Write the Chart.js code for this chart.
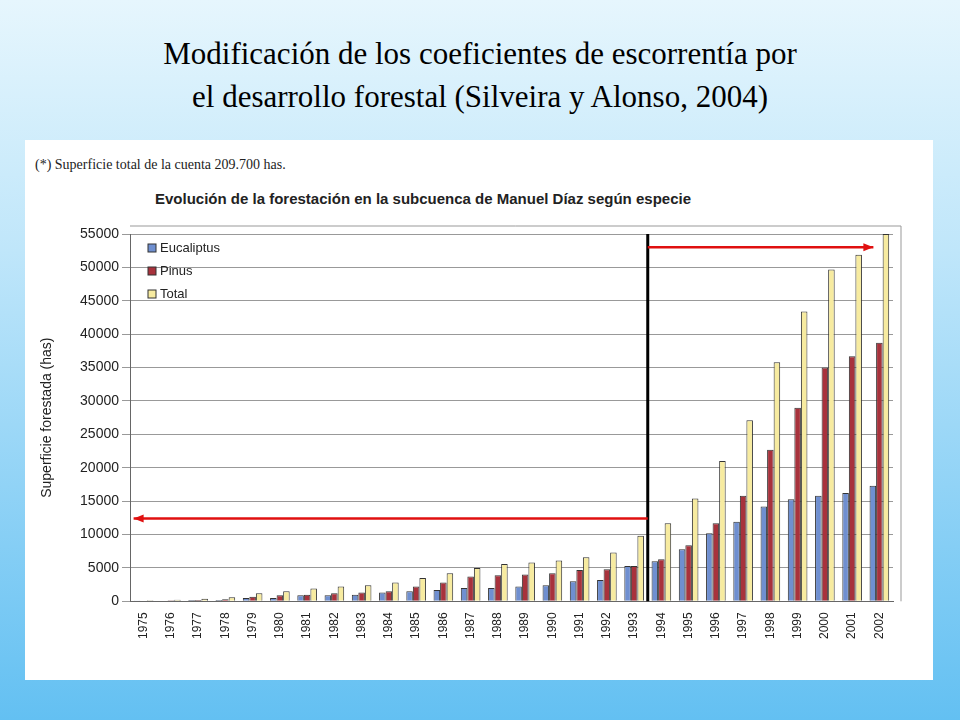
<!DOCTYPE html>
<html><head><meta charset="utf-8">
<script src="https://cdn.jsdelivr.net/npm/chart.js@4/dist/chart.umd.min.js"></script>
<style>
html,body{margin:0;padding:0;width:960px;height:720px;overflow:hidden}
body{background:linear-gradient(#e6f6fd 0%,#bfe6fa 35%,#63c0f2 100%);font-family:"Liberation Serif",serif;position:relative}
#t{position:absolute;top:32px;left:0;width:960px;text-align:center;font-size:31px;line-height:43px;color:#000}
#panel{position:absolute;left:25px;top:140px;width:908px;height:540px;background:#fff}
#fn{position:absolute;left:10px;top:17px;font:14px "Liberation Serif",serif;color:#222}
#ct{position:absolute;left:130px;top:50px;font:bold 15px "Liberation Sans",sans-serif;color:#222}
canvas{position:absolute;left:0;top:0}
</style></head><body>
<div id="t">Modificación de los coeficientes de escorrentía por<br>el desarrollo forestal (Silveira y Alonso, 2004)</div>
<div id="panel"><div id="fn">(*) Superficie total de la cuenta 209.700 has.</div>
<div id="ct">Evolución de la forestación en la subcuenca de Manuel Díaz según especie</div>
<canvas id="c" width="908" height="540"></canvas></div>
<script>
const years=['1975','1976','1977','1978','1979','1980','1981','1982','1983','1984','1985','1986','1987','1988','1989','1990','1991','1992','1993','1994','1995','1996','1997','1998','1999','2000','2001','2002'];
const eucaliptus=[50,100,200,200,500,500,900,900,1000,1300,1500,1700,2000,2000,2200,2400,3000,3200,5300,6000,7800,10200,11900,14200,15300,15800,16200,17300];
const pinus=[100,150,200,300,700,900,1000,1200,1300,1500,2200,2800,3700,3900,4000,4200,4700,4800,5300,6300,8400,11700,15800,22700,29000,35000,36700,38700];
const total=[150,250,400,600,1200,1500,1900,2200,2400,2800,3500,4200,5000,5600,5800,6100,6600,7300,9800,11700,15400,21000,27100,35800,43400,49700,51900,55000];
const yTicks=[0,5000,10000,15000,20000,25000,30000,35000,40000,45000,50000,55000];
const colors=['#6f8fd0','#a8323c','#f7eba0'];
const over={id:'over',afterDatasetsDraw(ch){
 const c=ch.ctx,x=ch.scales.x,y=ch.scales.y,a=ch.chartArea;
 c.save();
 c.strokeStyle='#999';c.lineWidth=1;c.beginPath();c.moveTo(a.left,a.top-8);c.lineTo(a.right+8,a.top-8);c.lineTo(a.right+8,a.bottom);c.stroke();
 const names=['Eucaliptus','Pinus','Total'];
 c.font='13px "Liberation Sans",sans-serif';c.textBaseline='middle';
 names.forEach((n,i)=>{const ly=a.top+14+i*23;c.fillStyle=colors[i];c.strokeStyle='#333';c.lineWidth=1;
  c.fillRect(a.left+18,ly-4,8,8);c.strokeRect(a.left+18,ly-4,8,8);c.fillStyle='#222';c.fillText(n,a.left+30,ly);});
 const xl=(x.getPixelForValue(18)+x.getPixelForValue(19))/2;
 c.strokeStyle='#000';c.lineWidth=3;c.beginPath();c.moveTo(xl,a.top);c.lineTo(xl,a.bottom);c.stroke();
 function arrow(x1,x2,yy){c.strokeStyle='#e01010';c.fillStyle='#e01010';c.lineWidth=2.5;c.beginPath();c.moveTo(x1,yy);c.lineTo(x2,yy);c.stroke();
  const d=Math.sign(x2-x1);c.beginPath();c.moveTo(x2,yy);c.lineTo(x2-d*10,yy-4);c.lineTo(x2-d*10,yy+4);c.closePath();c.fill();}
 arrow(xl,x.getPixelForValue(0)-10,y.getPixelForValue(12400));
 arrow(xl,x.getPixelForValue(27)-6,y.getPixelForValue(53000));
 c.restore();}};
new Chart(document.getElementById('c'),{type:'bar',
 data:{labels:years,datasets:[
  {label:'Eucaliptus',data:eucaliptus,backgroundColor:colors[0],borderColor:'#333',borderWidth:1},
  {label:'Pinus',data:pinus,backgroundColor:colors[1],borderColor:'#333',borderWidth:1},
  {label:'Total',data:total,backgroundColor:colors[2],borderColor:'#333',borderWidth:1}]},
 options:{responsive:false,animation:false,
  layout:{padding:{top:94,right:40,left:10,bottom:38}},
  datasets:{bar:{categoryPercentage:0.72,barPercentage:1}},
  plugins:{legend:{display:false},tooltip:{enabled:false}},
  scales:{
   x:{grid:{display:false},border:{color:'#666'},ticks:{color:'#222',font:{family:'Liberation Sans',size:12},maxRotation:90,minRotation:90,autoSkip:false}},
   y:{min:0,max:55000,afterBuildTicks(s){s.ticks=yTicks.map(v=>({value:v}));},afterFit(s){s.width=95;},
    grid:{color:'#999'},border:{color:'#666'},
    ticks:{color:'#222',font:{family:'Liberation Sans',size:14},callback:v=>String(v)},
    title:{display:true,text:'Superficie forestada (has)',color:'#222',font:{family:'Liberation Sans',size:14}}}}},
 plugins:[over]});
</script></body></html>
